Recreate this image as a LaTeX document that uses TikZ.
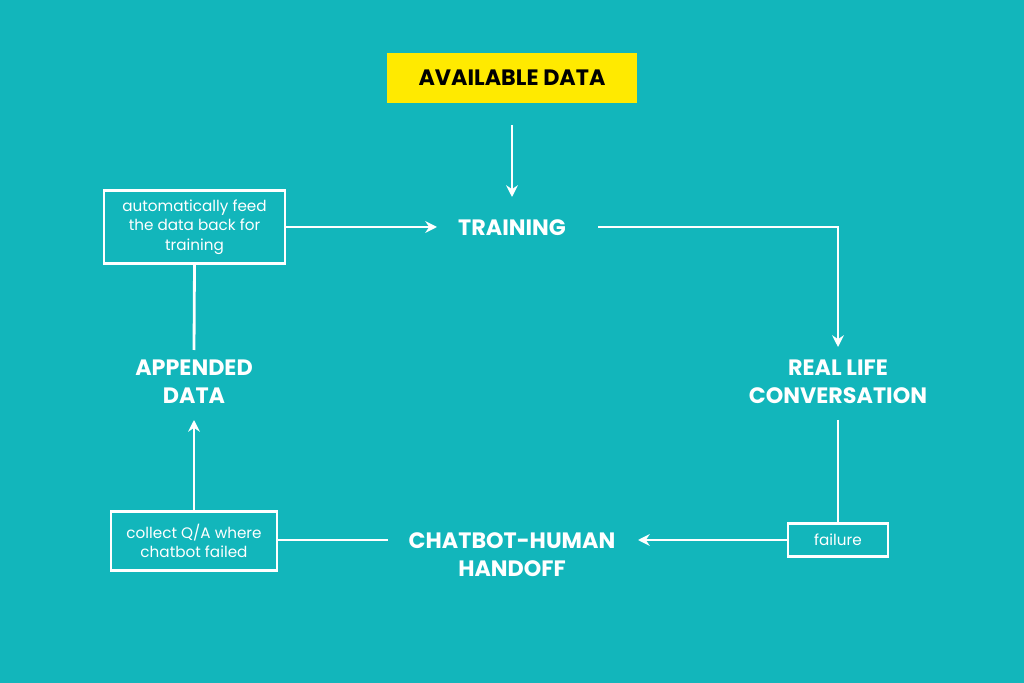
\documentclass[tikz,border=0pt]{standalone}
\usepackage{fontspec}
\setmainfont{Poppins}
\usetikzlibrary{arrows.meta}
\definecolor{bg}{HTML}{12B6BB}
\definecolor{yel}{HTML}{FFEA00}
\begin{document}
\begin{tikzpicture}[x=0.03cm,y=-0.03cm,
  lbl/.style={text=white,font=\fontsize{19}{24}\selectfont\bfseries,align=center},
  sbox/.style={draw=white,line width=2.4pt,text=white,font=\fontsize{13}{16.5}\selectfont,align=center,inner sep=0pt},
  ln/.style={white,line width=2.4pt},
  ar/.style={ln,-{Stealth[length=10pt,width=10pt]}}]
\fill[bg] (0,0) rectangle (1024,683);
\useasboundingbox (0,0) rectangle (1024,683);
\node[fill=yel,minimum width=250*0.03cm,minimum height=50*0.03cm,font=\fontsize{19}{24}\selectfont\bfseries] (avail) at (512,78) {AVAILABLE DATA};
\node[lbl] (train) at (512,228) {TRAINING};
\node[sbox,minimum width=181*0.03cm,minimum height=73*0.03cm] (auto) at (194.5,227) {automatically feed\\the data back for\\training};
\node[lbl] (real) at (838,382) {REAL LIFE\\CONVERSATION};
\node[sbox,minimum width=100*0.03cm,minimum height=33*0.03cm] (fail) at (838,540) {failure};
\node[lbl] (hand) at (512,555) {CHATBOT-HUMAN\\HANDOFF};
\node[sbox,minimum width=166*0.03cm,minimum height=59*0.03cm] (coll) at (194,541) {collect Q/A where\\chatbot failed};
\node[lbl] (app) at (194,382) {APPENDED\\DATA};
\coordinate (a1) at (512,125); \coordinate (a2) at (512,197);
\draw[ar] (a1) -- (a2);
\coordinate (t1) at (437,227);
\draw[ar] (auto.east) -- (t1);
\coordinate (t2) at (598,227); \coordinate (c1) at (838,227); \coordinate (r1) at (838,347);
\draw[ar] (t2) -- (c1) -- (r1);
\coordinate (r2) at (838,420);
\draw[ln] (r2) -- (fail.north);
\coordinate (h1) at (638,540);
\draw[ar] (fail.west) -- (h1);
\coordinate (h2) at (388,540);
\draw[ln] (h2) -- (coll.east|-h2);
\coordinate (p1) at (194,420);
\draw[ar] (coll.north) -- (p1);
\coordinate (p2) at (194,350);
\draw[ln] (p2) -- (auto.south);
\end{tikzpicture}
\end{document}
